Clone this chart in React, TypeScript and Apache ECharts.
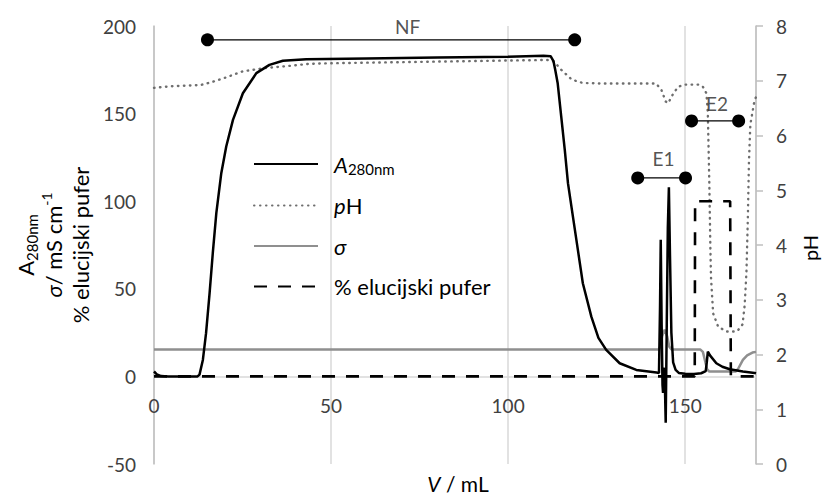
import React, { useEffect, useRef } from 'react';
import * as echarts from 'echarts';

const FONT = 'Lato, "Open Sans", sans-serif';

// A280nm (left axis)
const a280V = [0, 0.8, 2, 4, 12.3, 12.85, 13.8, 14.7, 15.7, 16.6, 17.6, 19.0, 20.4, 22.3, 25.1, 28.9, 32.6, 36.4, 43, 60, 80, 100, 110, 112, 112.8, 113.3, 114, 115, 116, 116.9, 118.3, 119.7, 121.1, 123.5, 125.5, 127.7, 131.5, 136.2, 141.9, 142.6, 142.9, 143.1, 143.35, 143.6, 143.75, 143.9, 144.2, 144.5, 144.8, 145.1, 145.4, 145.7, 146.1, 146.6, 147.3, 148.2, 150, 152.5, 154.5, 155.8, 156.1, 156.4, 157, 158.8, 160.5, 162.6, 166.3, 169.6, 170];
const a280 = [2.8, 1.2, 0.2, 0, 0, 1, 9.4, 24.7, 47.5, 70.3, 93.2, 116, 131.2, 146.4, 161.6, 173.1, 177.8, 180.2, 181, 181.5, 182, 182.5, 183, 182.8, 180, 175, 167.3, 148.3, 129.3, 110.3, 91.2, 72.2, 53.2, 34.1, 22, 15.1, 7.5, 3.7, 2.2, 2, 40, 78, 30, -5, -9.4, 5, 2, -26.5, 30, 85, 108, 70, 25, 8, 3.7, 2, 1.5, 1.4, 1.8, 3, 8, 14.2, 12, 7.5, 5.5, 4.1, 2.8, 2, 1.8];

// pH (right axis)
const phV = [0, 5, 13, 16, 19.4, 25, 31, 38, 44, 50, 80, 111, 113, 115, 118, 121, 126, 141.8, 143.3, 144.5, 145.2, 146.5, 148, 150, 154, 155, 156, 156.4, 156.8, 157.1, 157.3, 157.9, 159.3, 161.6, 164.5, 165, 166.2, 166.8, 167.3, 167.7, 168, 168.4, 169.6, 170];
const ph = [6.87, 6.9, 6.92, 6.97, 7.04, 7.17, 7.23, 7.27, 7.31, 7.32, 7.35, 7.38, 7.35, 7.2, 7.02, 6.96, 6.95, 6.95, 6.83, 6.62, 6.59, 6.75, 6.89, 6.93, 6.93, 6.89, 6.77, 6.4, 5.2, 4.0, 3.4, 2.75, 2.51, 2.42, 2.42, 2.45, 2.55, 2.9, 3.5, 4.5, 5.5, 6.2, 6.65, 6.7];

// σ (left axis)
const sigmaV = [0, 142.5, 143, 143.5, 144.2, 144.9, 145.5, 146.2, 154.3, 155, 155.6, 156.2, 156.8, 164.3, 165, 166.3, 167.5, 169, 170];
const sigma = [15.3, 15.3, 17, 23, 26.6, 23, 17, 15.3, 15.3, 14, 9, 4, 2.8, 2.8, 4.5, 9.4, 12, 13.6, 14];

// % elucijski pufer (left axis)
const elutionV = [0, 152.7, 152.8, 162.7, 162.9, 170];
const elution = [0, 0, 100, 100, 0, 0];

// fraction ranges
const rangeNames = ['NF', 'E1', 'E2'];
const rangeStart = [15.1, 136.6, 151.8];
const rangeEnd = [118.8, 150.1, 165.1];
const rangeLevel = [192.1, 113.3, 145.8];
const rangeLabelV = [71.6, 143.9, 159.0];
const rangeLabelY = [200, 124.3, 155.9];

const legendNames = ['A280nm', 'pH', 'σ', '% elucijski pufer'];
const legendRich: Record<string, string> = {
  'A280nm': '{i|A}{sub|280nm}',
  'pH': '{i|p}{n|H}',
  'σ': '{i|σ}',
  '% elucijski pufer': '{n|% elucijski pufer}',
};

const zip = (xs: number[], ys: number[]) => xs.map((x, i) => [x, ys[i]]);

export default function App() {
  const ref = useRef<HTMLDivElement>(null);
  useEffect(() => {
    if (!ref.current) return;
    const chart = echarts.init(ref.current, null, { renderer: 'svg' });
    const tickLabel = { fontSize: 19, color: '#404040', fontFamily: FONT };
    const richBase = {
      i: { fontStyle: 'italic', fontSize: 22, fontFamily: FONT, lineHeight: 24, color: '#000' },
      n: { fontSize: 22, fontFamily: FONT, lineHeight: 24, color: '#000' },
      sub: { fontSize: 15, fontFamily: FONT, lineHeight: 14, verticalAlign: 'bottom', color: '#000' },
    };
    const titleRich = {
      i: { fontStyle: 'italic', fontSize: 22, fontFamily: FONT, lineHeight: 27.5, fill: '#000' },
      n: { fontSize: 22, fontFamily: FONT, lineHeight: 27.5, fill: '#000' },
      sub: { fontSize: 15, fontFamily: FONT, lineHeight: 15, verticalAlign: 'bottom', fill: '#000' },
      sup: { fontSize: 14, fontFamily: FONT, lineHeight: 14, verticalAlign: 'top', fill: '#000' },
    };

    const rangeSeries = rangeNames.map((n, i) => ({
      name: n,
      type: 'line',
      yAxisIndex: 0,
      data: [[rangeStart[i], rangeLevel[i]], [rangeEnd[i], rangeLevel[i]]],
      symbol: 'circle',
      symbolSize: 13,
      lineStyle: { color: '#000', width: 1.3 },
      itemStyle: { color: '#000' },
      silent: true,
      z: 6,
    }));

    // grid: top 26, bottom edge at 464 -> zero of left axis at 26 + 438 * 200 / 250
    const gridTop = 26;
    const gridBottom = 31;
    const plotH = 495 - gridTop - gridBottom;
    const zeroOffset = -(plotH * 50) / 250;

    chart.setOption({
      animation: false,
      textStyle: { fontFamily: FONT },
      grid: { left: 154, right: 67, top: gridTop, bottom: gridBottom, containLabel: false, outerBoundsMode: 'none' },
      xAxis: {
        type: 'value', min: 0, max: 170, interval: 50, position: 'bottom', offset: zeroOffset,
        axisLine: { show: true, onZero: false, lineStyle: { color: '#d9d9d9', width: 1.5 } },
        axisTick: { show: false },
        axisLabel: { ...tickLabel, margin: 20, showMaxLabel: false },
        splitLine: { show: true, lineStyle: { color: '#d9d9d9', width: 1.5 } },
      },
      yAxis: [
        {
          type: 'value', min: -50, max: 200, interval: 50, position: 'left',
          axisLine: { show: true, onZero: false, lineStyle: { color: '#bfbfbf', width: 1.5 } },
          axisTick: { show: false },
          axisLabel: { ...tickLabel, margin: 18 },
          splitLine: { show: false },
        },
        {
          type: 'value', min: 0, max: 8, interval: 1, position: 'right',
          axisLine: { show: true, onZero: false, lineStyle: { color: '#bfbfbf', width: 1.5 } },
          axisTick: { show: true, length: 7, lineStyle: { color: '#bfbfbf', width: 1.5 } },
          axisLabel: { ...tickLabel, margin: 20 },
          splitLine: { show: false },
        },
      ],
      legend: {
        data: legendNames,
        orient: 'vertical',
        left: 253,
        top: 153,
        padding: 0,
        itemWidth: 64,
        itemHeight: 14,
        itemGap: 18.5,
        selectedMode: false,
        itemStyle: { opacity: 0 },
        textStyle: { fontSize: 22, fontFamily: FONT, color: '#000', padding: [0, 0, 0, 11], rich: richBase },
        formatter: (name: string) => legendRich[name] || name,
      },
      graphic: [
        {
          type: 'text', x: 53, y: 245, rotation: Math.PI / 2,
          style: {
            text: '{n|A}{sub|280nm}\n{i|σ}{n|/ mS cm}{sup|-1}\n{n|% elucijski pufer}',
            rich: titleRich, align: 'center', verticalAlign: 'middle', fill: '#000',
          },
        },
        {
          type: 'text', x: 810, y: 248, rotation: Math.PI / 2,
          style: { text: 'pH', fontSize: 20, fontFamily: FONT, fill: '#000', align: 'center', verticalAlign: 'middle' },
        },
        {
          type: 'text', x: 458, y: 483,
          style: {
            text: '{i|V}{n| / mL}',
            rich: {
              i: { fontStyle: 'italic', fontSize: 21, fontFamily: FONT, fill: '#000' },
              n: { fontSize: 21, fontFamily: FONT, fill: '#000' },
            },
            align: 'center', verticalAlign: 'middle',
          },
        },
      ],
      series: [
        {
          name: 'σ', type: 'line', yAxisIndex: 0, data: zip(sigmaV, sigma), symbol: 'none',
          lineStyle: { color: '#8f8f8f', width: 2.5 }, itemStyle: { color: '#8f8f8f' }, z: 2,
        },
        {
          name: 'pH', type: 'line', yAxisIndex: 1, data: zip(phV, ph), symbol: 'none',
          lineStyle: { color: '#6e6e6e', width: 2.4, type: [0.5, 5.5], cap: 'round' }, itemStyle: { color: '#6e6e6e' }, z: 3,
        },
        {
          name: '% elucijski pufer', type: 'line', yAxisIndex: 0, data: zip(elutionV, elution), symbol: 'none',
          lineStyle: { color: '#000', width: 2.6, type: [13, 11] }, itemStyle: { color: '#000' }, z: 4,
        },
        {
          name: 'A280nm', type: 'line', yAxisIndex: 0, data: zip(a280V, a280), symbol: 'none',
          lineStyle: { color: '#000', width: 2.5 }, itemStyle: { color: '#000' }, z: 5,
        },
        ...rangeSeries,
        {
          name: 'labels', type: 'scatter', yAxisIndex: 0,
          data: rangeNames.map((n, i) => ({ name: n, value: [rangeLabelV[i], rangeLabelY[i]] })),
          symbol: 'circle', symbolSize: 1, itemStyle: { color: 'transparent' },
          label: { show: true, position: 'inside', formatter: '{b}', fontSize: 19, fontFamily: FONT, color: '#262626' },
          silent: true, z: 7,
        },
      ],
    });
    return () => chart.dispose();
  }, []);
  return <div ref={ref} style={{ position: 'absolute', left: 0, top: 0, width: 823, height: 495 }} />;
}
